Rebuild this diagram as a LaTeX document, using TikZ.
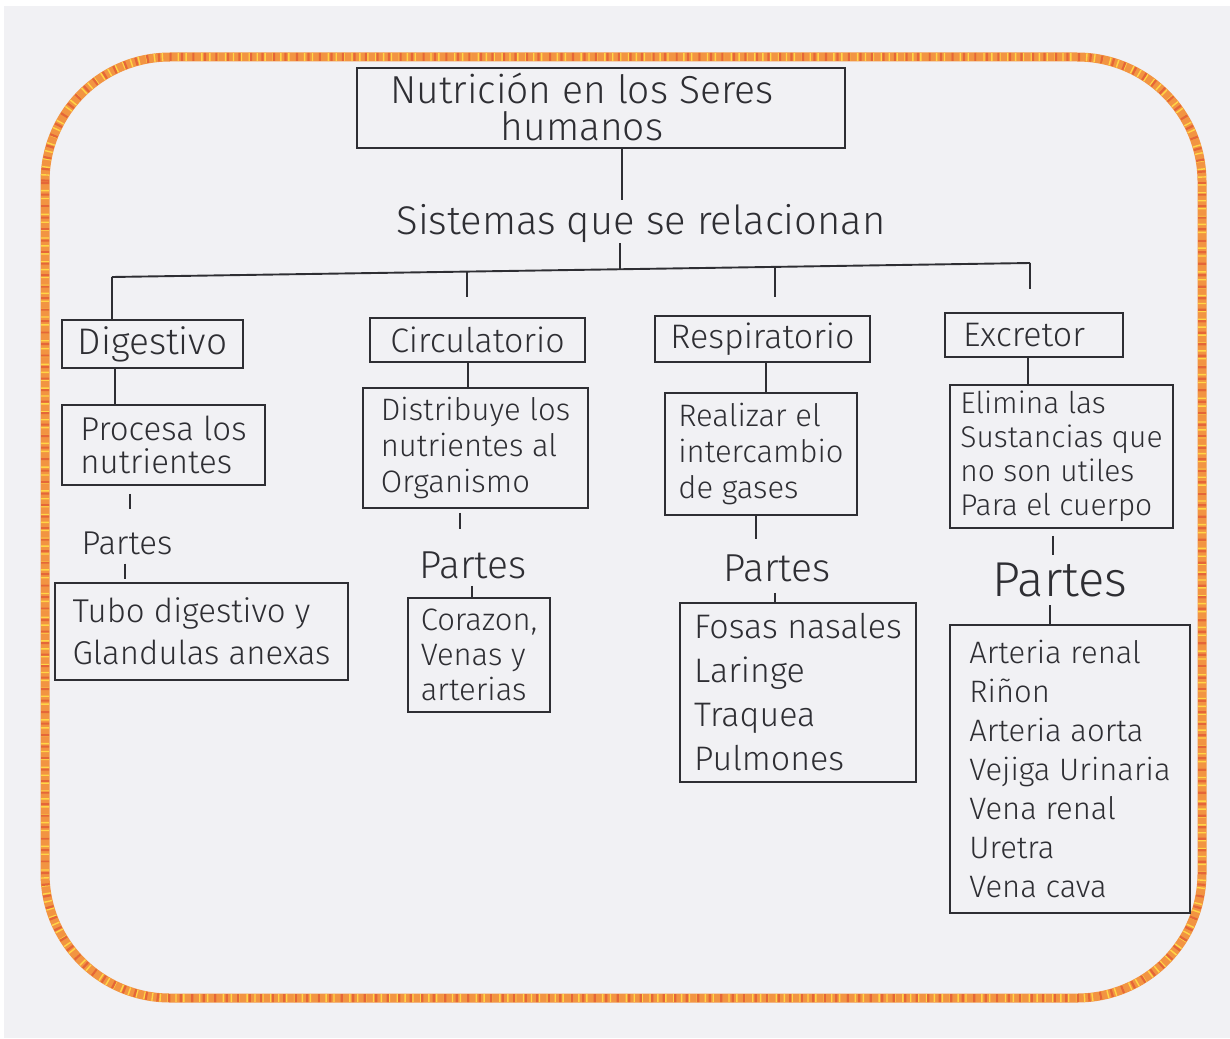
\documentclass[tikz,border=0pt]{standalone}
\usepackage{fontspec}
\setmainfont{Fira Sans Light}
\definecolor{paper}{rgb}{0.945,0.945,0.955}
\definecolor{ink}{rgb}{0.18,0.18,0.20}
\definecolor{bordo}{rgb}{0.95,0.58,0.26}
\definecolor{bordy}{rgb}{1.0,0.84,0.28}
\definecolor{bordr}{rgb}{0.90,0.40,0.22}
\begin{document}
\begin{tikzpicture}[x=1pt,y=-1pt,
  frame/.style={draw=ink, line width=1.9pt, rectangle, inner sep=0pt},
  txt/.style 2 args={text=ink, inner sep=0pt, font=\fontsize{#1}{#2}\selectfont},
  wire/.style={draw=ink, line width=1.9pt},
  border/.style={rounded corners=125pt}]
% paper
\fill[white] (0,0) rectangle (1230,1038);
\fill[paper] (4,6) rectangle (1230,1038);
% striped marker border
\draw[bordo, line width=9pt, border] (45,57) rectangle (1202,998);
\draw[bordy, line width=8pt, dash pattern=on 1.4pt off 6.5pt, border] (45,57) rectangle (1202,998);
\draw[bordr, line width=8pt, dash pattern=on 2.2pt off 9.3pt, border] (45,57) rectangle (1202,998);

% title
\node[frame, minimum width=488pt, minimum height=80pt] (title) at (601,108) {};
\node[txt={39}{37}, align=center] (titletxt) at (582,107) {Nutrición en los Seres\\humanos};
\node[txt={40}{40}] (sist) at (641,224) {Sistemas que se relacionan};

% systems
\node[frame, minimum width=181pt, minimum height=48pt] (dig) at (152.5,344) {};
\node[txt={37}{37}] at (dig.center) {Digestivo};
\node[frame, minimum width=215pt, minimum height=44pt] (circ) at (477.5,340) {};
\node[txt={34}{34}] at (circ.center) {Circulatorio};
\node[frame, minimum width=215pt, minimum height=46pt] (resp) at (762.5,339) {};
\node[txt={34}{34}] at (resp.center) {Respiratorio};
\node[frame, minimum width=178pt, minimum height=44pt] (excr) at (1034,335) {};
\node[txt={34}{34}] at ([xshift=-10pt]excr.center) {Excretor};

% functions
\node[frame, minimum width=203pt, minimum height=80pt] (proc) at (163.5,445) {};
\node[txt={33}{33}, align=left] at (proc.center) {Procesa los\\nutrientes};
\node[frame, minimum width=225pt, minimum height=120pt] (dist) at (475.5,448) {};
\node[txt={31}{36}, align=left] at (dist.center) {Distribuye los\\nutrientes al\\Organismo};
\node[frame, minimum width=192pt, minimum height=122pt] (real) at (761,454) {};
\node[txt={31}{36}, align=left] at (real.center) {Realizar el\\intercambio\\de gases};
\node[frame, minimum width=223pt, minimum height=143pt] (elim) at (1061.5,456.5) {};
\node[txt={30}{34}, align=left] at (elim.center) {Elimina las\\Sustancias que\\no son utiles\\Para el cuerpo};

% "Partes" labels
\node[txt={33}{33}] (pD) at (127,543) {Partes};
\node[txt={39}{39}] (pC) at (473,565) {Partes};
\node[txt={39}{39}] (pR) at (777,568) {Partes};
\node[txt={49}{49}] (pE) at (1060,580) {Partes};

% parts
\node[frame, minimum width=293pt, minimum height=97pt] (tubo) at (201.5,631.5) {};
\node[txt={33}{42}, align=left] at (tubo.center) {Tubo digestivo y\\Glandulas anexas};
\node[frame, minimum width=142pt, minimum height=114pt] (cora) at (479,655) {};
\node[txt={31}{35}, align=left] at (cora.center) {Corazon,\\Venas y\\arterias};
\node[frame, minimum width=236pt, minimum height=179pt] (fosas) at (798,692.5) {};
\node[txt={34}{44}, align=left] at (fosas.center) {Fosas nasales\\Laringe\\Traquea\\Pulmones};
\node[frame, minimum width=240pt, minimum height=288pt] (arter) at (1070,769) {};
\node[txt={31}{39}, align=left] at (arter.center) {Arteria renal\\Riñon\\Arteria aorta\\Vejiga Urinaria\\Vena renal\\Uretra\\Vena cava};

% trunk and bus
\coordinate (trunk) at (622,0);
\draw[wire, shorten >=5pt] (title.south -| trunk) -- (sist.north -| trunk);
\coordinate (busL) at (112,277);
\coordinate (busR) at (1030,263);
\coordinate (busM) at (620,269);
\draw[wire] (sist.south -| busM) -- (busM);
\draw[wire] (busL) -- (busR);
\coordinate (bC) at (467,272);
\coordinate (bR) at (775,267);
\draw[wire] (busL) -- (dig.north -| busL);
\draw[wire, shorten >=20pt] (bC) -- (bC |- circ.north);
\draw[wire, shorten >=18pt] (bR) -- (bR |- resp.north);
\draw[wire, shorten >=23pt] (busR) -- (busR |- excr.north);

% system to function
\draw[wire] ([xshift=-37.5pt]dig.south) -- ([xshift=-37.5pt]dig.south |- proc.north);
\draw[wire] ([xshift=-9.5pt]circ.south) -- ([xshift=-9.5pt]circ.south |- dist.north);
\draw[wire] ([xshift=3.5pt]resp.south) -- ([xshift=3.5pt]resp.south |- real.north);
\draw[wire] ([xshift=-6pt]excr.south) -- ([xshift=-6pt]excr.south |- elim.north);

% function to "Partes" to parts
\coordinate (cD1) at (130,0); \coordinate (cD2) at (125,0);
\draw[wire, shorten <=8pt, shorten >=22pt] (proc.south -| cD1) -- (pD.north -| cD1);
\draw[wire, shorten <=9pt, shorten >=3pt] (pD.south -| cD2) -- (tubo.north -| cD2);
\coordinate (cC1) at (460,0); \coordinate (cC2) at (472,0);
\draw[wire, shorten <=4pt, shorten >=22pt] (dist.south -| cC1) -- (pC.north -| cC1);
\draw[wire, shorten <=7pt] (pC.south -| cC2) -- (cora.north -| cC2);
\coordinate (cR1) at (756,0); \coordinate (cR2) at (775,0);
\draw[wire, shorten >=15pt] (real.south -| cR1) -- (pR.north -| cR1);
\draw[wire, shorten <=11pt] (pR.south -| cR2) -- (fosas.north -| cR2);
\coordinate (cE1) at (1053,0); \coordinate (cE2) at (1050,0);
\draw[wire, shorten <=7pt, shorten >=8pt] (elim.south -| cE1) -- (pE.north -| cE1);
\draw[wire, shorten <=8pt] (pE.south -| cE2) -- (arter.north -| cE2);
\end{tikzpicture}
\end{document}
